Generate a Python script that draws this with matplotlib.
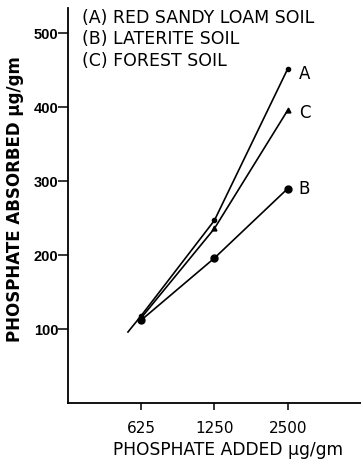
import matplotlib.pyplot as plt

plt.rcParams['font.family'] = ['DejaVu Sans']

# data
doses = ['625', '1250', '2500']
pos = [1, 2, 3]
soil_a = [118, 247, 452]   # red sandy loam
soil_b = [112, 196, 290]   # laterite
soil_c = [115, 236, 396]   # forest
tail_x = [0.82, 1]         # short lead-in drawn below 625 on curve A
tail_y = [96, 118]

fig = plt.figure(figsize=(3.61, 4.70), dpi=100)
ax = fig.add_axes([0.188, 0.1426, 0.812, 0.840])

ax.plot(tail_x, tail_y, color='black', lw=1.2)
ax.plot(pos, soil_a, color='black', lw=1.2, marker='o', ms=3)
ax.plot(pos, soil_b, color='black', lw=1.2, marker='o', ms=5)
ax.plot(pos, soil_c, color='black', lw=1.2, marker='^', ms=3.5)

for y, lab, dy in [(soil_a[-1], 'A', -4), (soil_b[-1], 'B', 0), (soil_c[-1], 'C', -2)]:
    ax.annotate(lab, (3, y), xytext=(8, dy), textcoords='offset points',
                fontsize=12, ha='left', va='center')

ax.set_xlim(0, 4)
ax.set_ylim(0, 534)
ax.set_xticks(pos)
ax.set_xticklabels(doses, fontsize=11)
ax.set_yticks([100, 200, 300, 400, 500])
ax.set_yticklabels(['100', '200', '300', '400', '500'],
                   family='Liberation Sans', fontweight='bold', fontsize=10.5)
ax.tick_params(axis='both', direction='out', width=1.1)
ax.tick_params(axis='x', length=5, pad=8)
ax.tick_params(axis='y', length=7, pad=0)
for s in ['top', 'right']:
    ax.spines[s].set_visible(False)
for s in ['left', 'bottom']:
    ax.spines[s].set_linewidth(1.3)

ax.set_ylabel('PHOSPHATE ABSORBED µg/gm', fontsize=12, fontweight='bold')
ax.yaxis.set_label_coords(-0.15, 0.516)
fig.text(0.632, 0.042, 'PHOSPHATE ADDED µg/gm', fontsize=12.3, ha='center', va='center')

legend_lines = ['(A) RED SANDY LOAM SOIL', '(B) LATERITE SOIL', '(C) FOREST SOIL']
for i, t in enumerate(legend_lines):
    fig.text(0.227, 0.962 - i * 0.046, t, fontsize=12.5, ha='left', va='center')

fig.savefig('out.png', dpi=100)
